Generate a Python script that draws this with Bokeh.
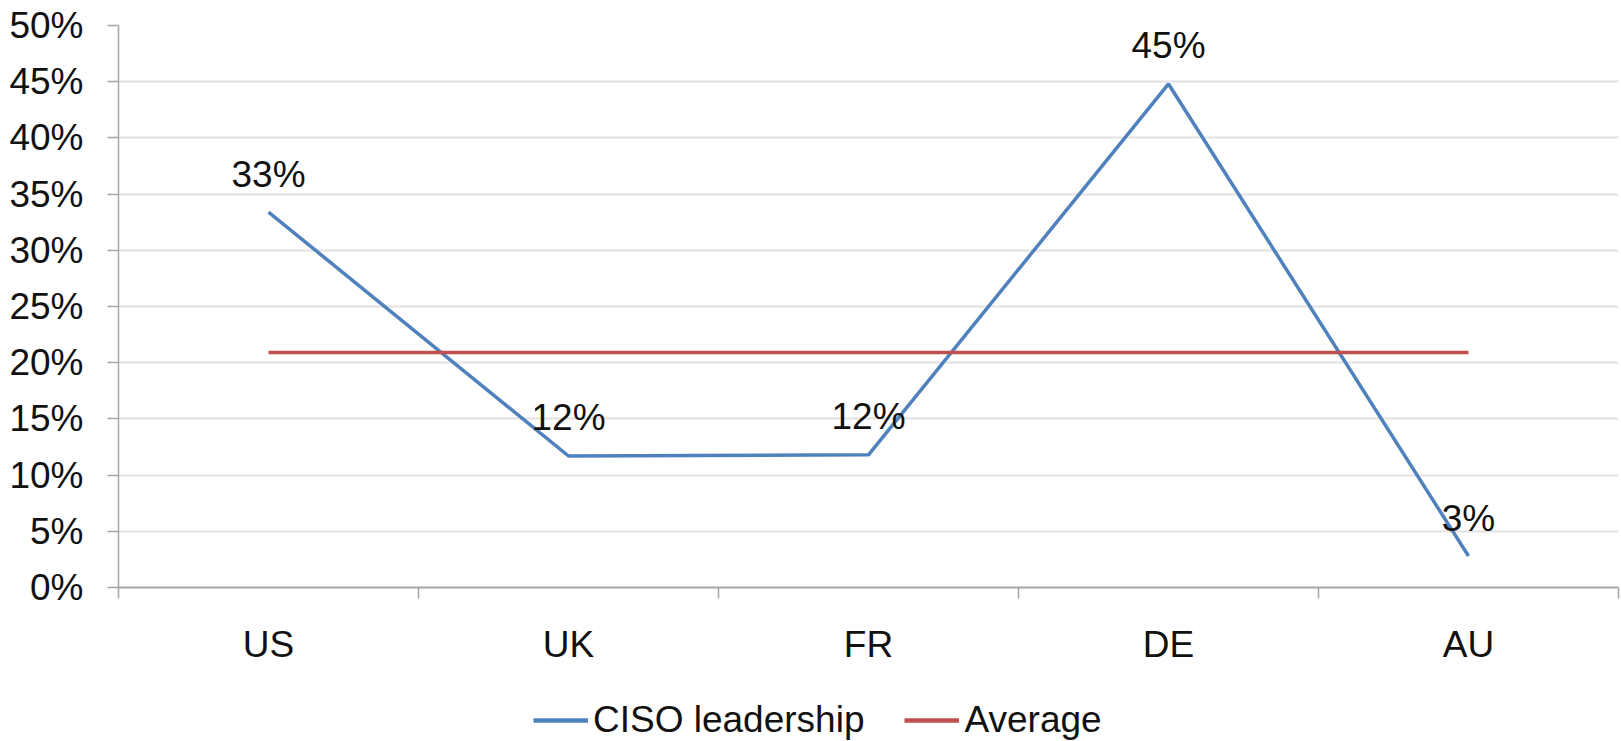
from bokeh.plotting import figure
from bokeh.layouts import column
from bokeh.models import ColumnDataSource, FixedTicker, NumeralTickFormatter, Legend, LegendItem, Range1d
from bokeh.core.properties import value
from bokeh.embed import file_html
from bokeh.resources import INLINE

categories = ["US", "UK", "FR", "DE", "AU"]
ciso = [0.334, 0.117, 0.118, 0.448, 0.028]
avg_value = sum(ciso) / len(ciso)
average = [avg_value] * len(categories)
y_ticks = [0.0, 0.05, 0.10, 0.15, 0.20, 0.25, 0.30, 0.35, 0.40, 0.45, 0.50]
series_names = ["CISO leadership", "Average"]

FONT = "Liberation Sans"
FS = "37px"
BLUE = "#4F81BD"
RED = "#C0504D"

xs = [i + 0.5 for i in range(len(categories))]
labels = [f"{round(v * 100):.0f}%" for v in ciso]
src = ColumnDataSource(dict(x=xs, ciso=ciso, avg=average, lab=labels))

p = figure(frame_width=1500, frame_height=562, output_backend="svg", toolbar_location=None,
           x_range=Range1d(0, len(categories)), y_range=Range1d(0, 0.5),
           min_border_left=118, min_border_right=3, min_border_top=25, min_border_bottom=80)
p.outline_line_color = None
p.background_fill_color = "white"
p.border_fill_color = "white"

p.line("x", "ciso", source=src, line_color=BLUE, line_width=3.5)
p.line("x", "avg", source=src, line_color=RED, line_width=3.5)
p.text("x", "ciso", text="lab", source=src, text_align="center", text_baseline="middle",
       y_offset=-38, text_font=value(FONT), text_font_size=FS, text_color="#111111")

# x axis: labels at category centres, tick marks at category boundaries
p.xaxis.ticker = FixedTicker(ticks=xs, minor_ticks=list(range(len(categories) + 1)))
p.xaxis.major_label_overrides = {x: c for x, c in zip(xs, categories)}
p.xaxis.major_tick_in = 0
p.xaxis.major_tick_out = 0
p.xaxis.minor_tick_in = 0
p.xaxis.minor_tick_out = 11
p.xaxis.minor_tick_line_color = "#a6a6a6"
p.xaxis.minor_tick_line_width = 1.5
p.xaxis.major_label_standoff = 25
p.xaxis.axis_line_color = "#a6a6a6"
p.xaxis.axis_line_width = 2
p.xaxis.major_label_text_font = FONT
p.xaxis.major_label_text_font_size = FS
p.xaxis.major_label_text_color = "#111111"

p.yaxis.ticker = FixedTicker(ticks=y_ticks)
p.yaxis.formatter = NumeralTickFormatter(format="0%")
p.yaxis.major_tick_in = 0
p.yaxis.major_tick_out = 11
p.yaxis.minor_tick_line_color = None
p.yaxis.major_tick_line_color = "#a6a6a6"
p.yaxis.major_tick_line_width = 1.5
p.yaxis.axis_line_color = "#a6a6a6"
p.yaxis.axis_line_width = 1.5
p.yaxis.major_label_standoff = 24
p.yaxis.major_label_text_font = FONT
p.yaxis.major_label_text_font_size = FS
p.yaxis.major_label_text_color = "#111111"

p.xgrid.grid_line_color = None
p.ygrid.grid_line_color = "#e2e2e2"
p.ygrid.grid_line_width = 2

# legend strip underneath: an axis-less figure whose view excludes the data,
# so only the legend keys of its (same-source) line renderers are visible
lg = figure(width=1621, height=74, output_backend="svg", toolbar_location=None,
            x_axis_location=None, y_axis_location=None,
            x_range=Range1d(0, len(categories)), y_range=Range1d(-2, -1),
            min_border_left=0, min_border_right=0, min_border_top=0, min_border_bottom=0)
lg.outline_line_color = None
lg.grid.grid_line_color = None
k1 = lg.line("x", "ciso", source=src, line_color=BLUE, line_width=4.5)
k2 = lg.line("x", "avg", source=src, line_color=RED, line_width=4.5)
legend = Legend(items=[LegendItem(label=series_names[0], renderers=[k1]),
                       LegendItem(label=series_names[1], renderers=[k2])],
                orientation="horizontal", location=(415, 0),
                label_text_font=FONT, label_text_font_size=FS, label_text_color="#111111",
                glyph_width=55, glyph_height=20, label_standoff=5, spacing=40,
                padding=0, margin=0, border_line_color=None, background_fill_color=None)
lg.add_layout(legend, "center")

open("out.html", "w").write(file_html(column(p, lg, spacing=0), INLINE))
